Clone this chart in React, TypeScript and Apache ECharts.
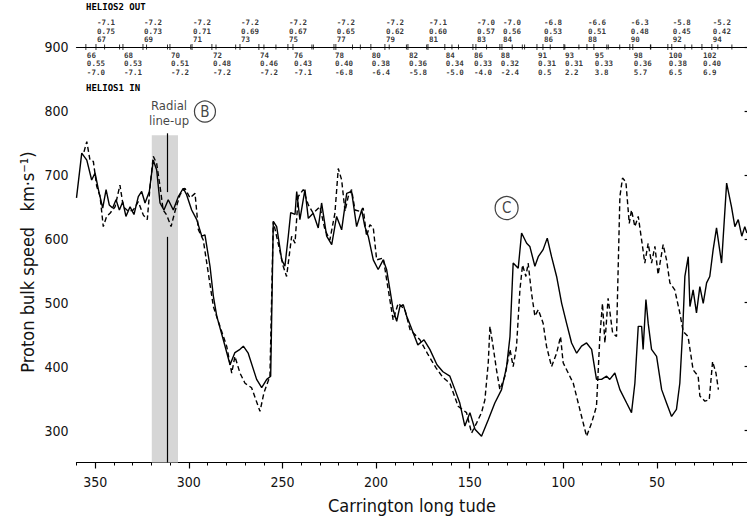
import React, { useEffect, useRef } from "react";
import * as echarts from "echarts";

// Carrington longitude (deg) and proton bulk speed (km/s) — solid curve
const solidLon = [360, 357.2, 354.5, 351.9, 350.1, 348.3, 346.0, 344.2, 342.5, 340.7, 338.9, 337.1, 335.3, 333.6, 331.4, 329.3, 327.0, 325.2, 323.4, 321.1, 319.0, 317.2, 315.4, 313.3, 311.0, 308.3, 305.6, 303.0, 301.2, 298.5, 295.8, 293.1, 291.4, 288.7, 286.9, 285.1, 281.6, 278.0, 275.4, 272.7, 270.9, 268.3, 263.8, 261.1, 258.4, 256.3, 254.9, 253.1, 250.4, 248.7, 246.9, 245.6, 243.3, 242.4, 240.7, 238.0, 236.2, 233.6, 230.9, 229.1, 226.4, 223.7, 221.1, 218.4, 215.7, 213.1, 210.4, 207.7, 206.0, 204.2, 201.5, 198.9, 196.2, 194.4, 192.6, 190.9, 189.0, 187.3, 185.5, 183.7, 181.9, 177.7, 174.4, 171.3, 167.5, 164.3, 160.6, 157.9, 155.3, 152.6, 149.9, 147.2, 143.7, 140.1, 136.6, 133.0, 130.3, 128.5, 126.8, 124.1, 122.3, 119.6, 117.9, 115.2, 113.4, 110.8, 108.6, 106.3, 103.6, 100.9, 98.3, 95.6, 92.9, 90.3, 87.6, 84.9, 82.3, 79.6, 76.9, 75.2, 72.5, 69.8, 66.2, 63.6, 61.8, 60.0, 58.2, 57.4, 55.9, 54.7, 52.9, 50.2, 47.5, 44.9, 42.2, 39.6, 37.8, 36.3, 35.1, 33.3, 32.4, 30.7, 28.9, 27.1, 25.3, 23.5, 21.8, 20.0, 18.2, 15.5, 12.8, 10.2, 8.4, 6.6, 4.7, 3.1, 2.0];
const solidSpeed = [664, 734, 723, 692, 703, 677, 648, 677, 653, 648, 661, 645, 658, 635, 650, 638, 666, 674, 656, 674, 723, 708, 656, 645, 661, 645, 666, 679, 669, 645, 630, 604, 606, 557, 510, 479, 442, 403, 422, 427, 432, 421, 380, 367, 380, 385, 627, 619, 567, 557, 604, 641, 638, 674, 630, 677, 632, 640, 617, 656, 604, 591, 635, 614, 671, 674, 619, 645, 619, 604, 567, 552, 567, 552, 520, 489, 471, 494, 497, 479, 466, 434, 442, 427, 403, 392, 385, 364, 343, 307, 328, 302, 291, 317, 343, 364, 400, 447, 562, 554, 609, 593, 588, 557, 572, 583, 601, 572, 541, 499, 468, 437, 421, 432, 437, 427, 380, 380, 385, 380, 390, 364, 343, 328, 374, 463, 463, 427, 505, 468, 427, 416, 364, 343, 322, 333, 374, 455, 541, 572, 494, 520, 484, 525, 499, 531, 541, 583, 617, 562, 687, 650, 619, 630, 604, 619, 609];

// dashed curve
const dashedLon = [356.0, 354.5, 352.8, 351.0, 349.2, 347.4, 345.7, 343.9, 342.1, 339.4, 336.8, 335.0, 332.3, 329.7, 327.0, 324.3, 322.2, 320.7, 319.0, 317.2, 315.4, 313.7, 311.8, 309.5, 307.4, 304.7, 302.1, 299.4, 296.7, 294.9, 292.3, 289.6, 286.9, 283.4, 279.8, 277.1, 275.4, 272.7, 270.0, 266.5, 262.0, 259.9, 256.7, 254.9, 252.3, 249.6, 247.8, 245.1, 243.3, 241.6, 238.9, 236.2, 233.6, 230.0, 227.3, 224.7, 222.0, 220.2, 218.4, 216.6, 214.9, 213.1, 211.3, 208.6, 206.9, 205.1, 203.3, 201.5, 199.7, 196.2, 193.5, 190.9, 188.2, 184.6, 181.9, 176.6, 172.3, 168.0, 164.3, 160.6, 156.2, 151.7, 149.0, 146.3, 143.7, 141.9, 140.1, 139.2, 137.8, 135.7, 133.9, 131.2, 128.5, 126.8, 125.0, 123.2, 121.8, 120.0, 118.8, 117.0, 115.2, 113.4, 110.8, 109.0, 106.3, 103.6, 101.5, 100.1, 97.4, 94.7, 91.2, 87.6, 84.9, 82.3, 80.5, 79.1, 77.8, 76.1, 73.7, 71.6, 69.8, 68.4, 66.6, 64.8, 63.6, 61.8, 60.0, 58.2, 56.5, 54.7, 52.9, 51.1, 49.4, 46.7, 44.9, 43.1, 40.5, 37.8, 36.0, 33.4, 30.7, 28.0, 27.1, 24.4, 22.1, 20.3, 18.5, 17.2];
const dashedSpeed = [736, 752, 723, 721, 682, 666, 619, 635, 640, 650, 684, 650, 643, 645, 658, 637, 630, 682, 729, 718, 682, 645, 637, 619, 643, 669, 679, 664, 671, 614, 598, 546, 494, 463, 432, 390, 416, 390, 374, 367, 330, 359, 385, 627, 593, 557, 541, 604, 593, 666, 677, 653, 640, 650, 614, 598, 640, 710, 692, 643, 666, 677, 645, 643, 648, 604, 622, 617, 567, 570, 520, 473, 499, 489, 458, 442, 419, 398, 383, 374, 338, 328, 296, 312, 328, 348, 406, 463, 437, 395, 364, 385, 427, 400, 432, 520, 559, 541, 562, 515, 479, 489, 468, 432, 400, 421, 447, 406, 390, 374, 333, 291, 312, 338, 447, 499, 437, 507, 453, 447, 666, 695, 689, 624, 645, 619, 635, 598, 562, 593, 562, 588, 544, 591, 567, 531, 520, 484, 455, 447, 395, 385, 354, 346, 348, 408, 390, 364];

// Axis ticks / labels
const xTickValues = [350, 300, 250, 200, 150, 100, 50];
const yTickValues = [300, 400, 500, 600, 700, 800, 900];

// HELIOS 2 (out) ephemeris markers along the top
const h2Lon = [349.6, 324.5, 298.3, 272.7, 247.1, 221.5, 195.3, 172.3, 146.7, 132.8, 110.9, 87.4, 64.5, 42.1, 20.7];
const h2Day = ["67", "69", "71", "73", "75", "77", "79", "81", "83", "84", "86", "88", "90", "92", "94"];
const h2R = ["0.75", "0.73", "0.71", "0.69", "0.67", "0.65", "0.62", "0.60", "0.57", "0.56", "0.53", "0.51", "0.48", "0.45", "0.42"];
const h2Lat = ["-7.1", "-7.2", "-7.2", "-7.2", "-7.2", "-7.2", "-7.2", "-7.1", "-7.0", "-7.0", "-6.8", "-6.6", "-6.3", "-5.8", "-5.2"];
const h2MinorLon = [337, 311.4, 285.5, 259.9, 234.3, 208.4, 183.8, 159.5, 121.9, 99.2, 76, 53.3, 31.4, 10];

// HELIOS 1 (in) ephemeris markers
const h1Lon = [355, 335.2, 310.1, 287.7, 262.6, 244.4, 222.5, 202.8, 183.0, 163.3, 148.3, 133.9, 114.1, 99.7, 83.7, 62.9, 44.2, 26.0];
const h1Day = ["66", "68", "70", "72", "74", "76", "78", "80", "82", "84", "86", "88", "91", "93", "95", "98", "100", "102"];
const h1R = ["0.55", "0.53", "0.51", "0.48", "0.46", "0.43", "0.40", "0.38", "0.36", "0.34", "0.33", "0.32", "0.31", "0.31", "0.33", "0.36", "0.38", "0.40"];
const h1Lat = ["-7.0", "-7.1", "-7.2", "-7.2", "-7.2", "-7.1", "-6.8", "-6.4", "-5.8", "-5.0", "-4.0", "-2.4", "0.5", "2.2", "3.8", "5.7", "6.5", "6.9"];
const h1MinorLon = [345, 322.6, 299, 275, 253.5, 233.5, 212.6, 193, 173, 156, 141, 127.3, 120.7, 107, 91.7, 76.8, 69.9, 53.5, 35.1, 17.5];

// Radial line-up band and line
const bandLon = [319.8, 305.8];
const bandTop = 762;
const lineupLon = 311.8;
const lineupSegments = [[765, 673], [603, 250]];

const FONT = '"DejaVu Sans Condensed", "DejaVu Sans", sans-serif';
const MONO = '"DejaVu Sans Mono", "Liberation Mono", monospace';

export default function App() {
  const ref = useRef<HTMLDivElement>(null);
  useEffect(() => {
    const el = ref.current!;
    const chart = echarts.init(el, null, { renderer: "svg" });

    const solidData = solidLon.map((l, i) => [l, solidSpeed[i]]);
    const dashedData = dashedLon.map((l, i) => [l, dashedSpeed[i]]);

    const tickLabelStyle = {
      show: true,
      formatter: "{b}",
      fontSize: 7.5,
      lineHeight: 8.5,
      fontFamily: MONO,
      fontWeight: "bold" as const,
      color: "#000",
      align: "left" as const,
    };

    const option: any = {
      animation: false,
      backgroundColor: "#fff",
      grid: { left: 76.5, right: 9.4, top: 47, bottom: 58.5, containLabel: false },
      xAxis: [
        {
          type: "value", min: 0, max: 360, interval: 10, inverse: true, position: "bottom",
          axisLine: { show: true, lineStyle: { color: "#000", width: 1.2 } },
          axisTick: { show: true, length: 3, lineStyle: { color: "#000", width: 1 } },
          axisLabel: { show: false },
          splitLine: { show: false },
        },
        {
          type: "value", min: 0, max: 360, inverse: true, position: "bottom",
          axisLine: { show: false },
          axisTick: { show: true, length: 6, customValues: xTickValues, lineStyle: { color: "#000", width: 1.2 } },
          axisLabel: {
            show: true, customValues: xTickValues, margin: 12, fontSize: 14, fontFamily: FONT, color: "#111",
          },
          splitLine: { show: false },
        },
        {
          type: "value", min: 0, max: 360, inverse: true, position: "top",
          axisLine: { show: true, lineStyle: { color: "#000", width: 1.2 } },
          axisTick: { show: false },
          axisLabel: { show: false },
          splitLine: { show: false },
        },
      ],
      yAxis: [
        {
          type: "value", min: 250, max: 900, interval: 10, position: "left",
          axisLine: { show: true, lineStyle: { color: "#000", width: 1.2 } },
          axisTick: { show: true, length: 3, lineStyle: { color: "#000", width: 1 } },
          axisLabel: { show: false },
          splitLine: { show: false },
        },
        {
          type: "value", min: 250, max: 900, position: "left",
          axisLine: { show: false },
          axisTick: { show: true, length: 6, customValues: yTickValues, lineStyle: { color: "#000", width: 1.2 } },
          axisLabel: {
            show: true, customValues: yTickValues, margin: 8, fontSize: 14, fontFamily: FONT, color: "#111",
          },
          splitLine: { show: false },
        },
      ],
      graphic: [
        {
          type: "text", left: 86, top: 2,
          style: { text: "HELIOS2 OUT", fontSize: 9, fontFamily: MONO, fontWeight: "bold", fill: "#000" },
        },
        {
          type: "text", left: 86, top: 83,
          style: { text: "HELIOS1 IN", fontSize: 9, fontFamily: MONO, fontWeight: "bold", fill: "#000" },
        },
        {
          type: "text", x: 27, y: 262, rotation: Math.PI / 2,
          style: {
            text: "Proton bulk speed   km·s⁻¹)", fontSize: 18, fontFamily: FONT, fill: "#111",
            textAlign: "center", textVerticalAlign: "middle",
          },
        },
        {
          type: "text", x: 412, y: 505,
          style: {
            text: "Carrington long tude", fontSize: 18, fontFamily: FONT, fill: "#111",
            textAlign: "center", textVerticalAlign: "middle",
          },
        },
      ],
      series: [
        {
          type: "line", name: "solid", xAxisIndex: 0, yAxisIndex: 0, data: solidData,
          showSymbol: false, symbol: "none", smooth: false, clip: false,
          lineStyle: { color: "#000", width: 1.4, type: "solid" },
          markArea: {
            silent: true,
            itemStyle: { color: "#d6d6d6" },
            data: [[{ coord: [bandLon[0], 250] }, { coord: [bandLon[1], bandTop] }]],
          },
          markLine: {
            silent: true, symbol: ["none", "none"], label: { show: false },
            lineStyle: { color: "#000", width: 1.2, type: "solid" },
            data: lineupSegments.map((s) => [{ coord: [lineupLon, s[0]] }, { coord: [lineupLon, s[1]] }]),
          },
          z: 3,
        },
        {
          type: "line", name: "dashed", xAxisIndex: 0, yAxisIndex: 0, data: dashedData,
          showSymbol: false, symbol: "none", smooth: false, clip: false,
          lineStyle: { color: "#000", width: 1.4, type: [5, 3] },
          z: 3,
        },
        {
          type: "scatter", xAxisIndex: 0, yAxisIndex: 0, clip: false, silent: true,
          symbol: "rect", symbolSize: [1, 6], itemStyle: { color: "#000" },
          data: h2Lon.map((l, i) => ({ value: [l, 900], name: `${h2Lat[i]}\n${h2R[i]}\n${h2Day[i]}` })),
          label: { ...tickLabelStyle, position: [1.5, 0], verticalAlign: "bottom" },
          z: 5,
        },
        {
          type: "scatter", xAxisIndex: 0, yAxisIndex: 0, clip: false, silent: true,
          symbol: "rect", symbolSize: [1, 6], itemStyle: { color: "#000" },
          data: h1Lon.map((l, i) => ({ value: [l, 900], name: `${h1Day[i]}\n${h1R[i]}\n${h1Lat[i]}` })),
          label: { ...tickLabelStyle, position: [1.5, 7], verticalAlign: "top" },
          z: 5,
        },
        {
          type: "scatter", xAxisIndex: 0, yAxisIndex: 0, clip: false, silent: true,
          symbol: "rect", symbolSize: [1, 5], itemStyle: { color: "#000" },
          data: h2MinorLon.map((l) => [l, 900]).concat(h1MinorLon.map((l) => [l, 900])),
          z: 5,
        },
        {
          type: "scatter", xAxisIndex: 0, yAxisIndex: 0, clip: false, silent: true,
          symbol: "circle", symbolSize: 1, itemStyle: { color: "rgba(0,0,0,0)" },
          data: [{ value: [310.6, 797], name: "Radial\nline-up" }],
          label: {
            show: true, formatter: "{b}", position: "inside", fontSize: 13, lineHeight: 15,
            fontFamily: FONT, color: "#111", align: "center", verticalAlign: "middle",
          },
          z: 6,
        },
        {
          type: "scatter", xAxisIndex: 0, yAxisIndex: 0, clip: false, silent: true,
          symbol: "circle",
          itemStyle: { color: "rgba(255,255,255,0)", borderColor: "#111", borderWidth: 1.2 },
          data: [
            { value: [291.4, 799], name: "B", symbolSize: 21 },
            { value: [130.3, 648], name: "C", symbolSize: 23 },
          ],
          label: {
            show: true, formatter: "{b}", position: "inside", fontSize: 15,
            fontFamily: FONT, color: "#111",
          },
          z: 6,
        },
      ],
    };
    chart.setOption(option);
    return () => chart.dispose();
  }, []);
  return (
    <div style={{ position: "fixed", left: 0, top: 0, width: 747, height: 521, overflow: "hidden", background: "#fff" }}>
      <div ref={ref} style={{ width: 760, height: 521 }} />
    </div>
  );
}
